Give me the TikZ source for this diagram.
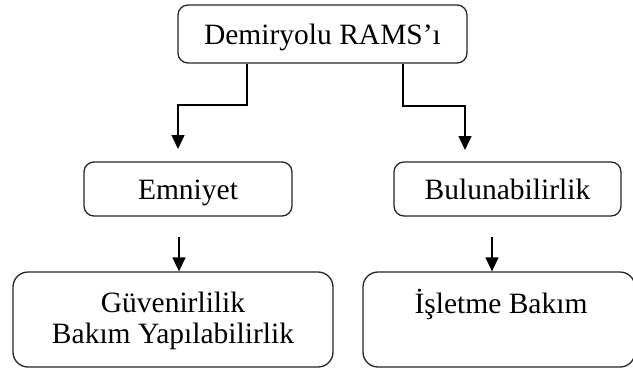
\documentclass[tikz,border=0pt]{standalone}
\usepackage{fontspec}
\setmainfont{Liberation Serif}
\usetikzlibrary{arrows.meta}
\begin{document}
\begin{tikzpicture}[x=1pt,y=-1pt,
  box/.style={draw=black!85,line width=1.3pt,rounded corners=10pt,
    minimum width=#1,inner sep=0pt,align=center,
    text height=21pt,text depth=0pt,
    font=\fontsize{29.5}{31}\selectfont},
  label/.style={anchor=base,inner sep=0pt,align=center,
    font=\fontsize{29.5}{31}\selectfont},
  arr/.style={draw=black,line width=1.4pt,
    -{Triangle[length=14pt,width=13pt]}}]
\useasboundingbox (0,0) rectangle (633,370);

% boxes
\node[box=289pt,minimum height=58pt] (top) at (322.5,34) {Demiryolu RAMS’ı};
\node[box=208pt,minimum height=54pt] (emn) at (188,189) {Emniyet};
\node[box=227pt,minimum height=54pt] (bul) at (507.5,189) {Bulunabilirlik};
\node[box=320pt,minimum height=95pt,rounded corners=15pt] (guv) at (173,319.5) {};
\node[box=272pt,minimum height=95pt,rounded corners=15pt] (isl) at (499,319.5) {};

% texts of the lower boxes
\node[label] (guvt) at (173,312) {Güvenirlilik};
\node[label] (bakt) at (173,343) {Bakım Yapılabilirlik};
\node[label] (islt) at (501,313) {İşletme Bakım};

% connector bends and free ends
\coordinate (lj) at (247,105);
\coordinate (le) at (178,149);
\coordinate (rj) at (403,106);
\coordinate (re) at (465,150);
\coordinate (ls) at (179,237);
\coordinate (rs) at (492,237);

% connectors
\draw[arr] (lj |- top.south) -- (lj) -| (le);
\draw[arr] (rj |- top.south) -- (rj) -| (re);
\draw[arr] (ls) -- (ls |- guv.north);
\draw[arr] (rs) -- (rs |- isl.north);
\end{tikzpicture}
\end{document}
